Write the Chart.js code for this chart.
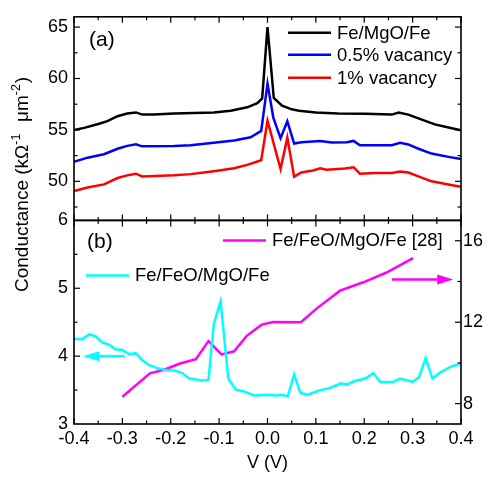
<!DOCTYPE html>
<html>
<head>
<meta charset="utf-8">
<script src="https://cdn.jsdelivr.net/npm/chart.js@4.4.1/dist/chart.umd.min.js"></script>
<style>
  html, body { margin: 0; padding: 0; background: #fff; }
</style>
</head>
<body>
<canvas id="c" width="489" height="477"></canvas>
<script>
// (a) Fe/MgO/Fe and vacancy curves, left axis of the top panel
const vBlack = [-0.4, -0.379, -0.348, -0.331, -0.31, -0.29, -0.272, -0.259, -0.235, -0.193, -0.152, -0.111, -0.076, -0.042, -0.021, -0.011, 0.0, 0.013, 0.03, 0.05, 0.065, 0.1, 0.146, 0.202, 0.257, 0.271, 0.291, 0.319, 0.346, 0.374, 0.4];
const gBlack = [55.0, 55.2, 55.6, 55.86, 56.33, 56.6, 56.7, 56.49, 56.49, 56.6, 56.65, 56.7, 56.87, 57.2, 57.6, 58.07, 65.0, 58.1, 57.35, 57.0, 56.87, 56.7, 56.6, 56.56, 56.49, 56.68, 56.49, 56.0, 55.54, 55.23, 54.97];

const vBlue = [-0.4, -0.372, -0.338, -0.31, -0.29, -0.272, -0.259, -0.193, -0.159, -0.111, -0.069, -0.035, -0.013, 0.0, 0.012, 0.027, 0.041, 0.055, 0.07, 0.109, 0.133, 0.164, 0.178, 0.191, 0.257, 0.274, 0.291, 0.312, 0.339, 0.374, 0.4];
const gBlue = [51.9, 52.3, 52.64, 53.17, 53.45, 53.6, 53.4, 53.43, 53.52, 53.74, 53.97, 54.28, 54.9, 59.5, 56.2, 54.2, 55.85, 53.67, 53.8, 53.93, 53.78, 53.8, 53.93, 53.5, 53.52, 53.74, 53.59, 53.17, 52.7, 52.38, 52.16];

const vRed = [-0.4, -0.372, -0.338, -0.31, -0.29, -0.272, -0.259, -0.193, -0.159, -0.111, -0.069, -0.042, -0.013, 0.0, 0.027, 0.041, 0.055, 0.07, 0.094, 0.109, 0.122, 0.16, 0.178, 0.191, 0.222, 0.257, 0.274, 0.291, 0.312, 0.339, 0.374, 0.4];
const gRed = [49.06, 49.4, 49.7, 50.32, 50.58, 50.74, 50.48, 50.58, 50.7, 50.99, 51.27, 51.6, 52.05, 55.9, 51.2, 54.25, 50.45, 50.86, 51.05, 51.27, 51.12, 51.24, 51.37, 50.74, 50.8, 50.8, 50.96, 50.86, 50.48, 50.0, 49.7, 49.47];

// (b) Fe/FeO/MgO/Fe, left axis of the bottom panel
const vCyan = [-0.4, -0.383, -0.368, -0.355, -0.341, -0.328, -0.314, -0.3, -0.286, -0.272, -0.259, -0.245, -0.231, -0.214, -0.193, -0.176, -0.162, -0.148, -0.135, -0.122, -0.111, -0.097, -0.081, -0.066, -0.049, -0.027, 0.003, 0.016, 0.029, 0.042, 0.055, 0.068, 0.082, 0.105, 0.126, 0.139, 0.152, 0.164, 0.179, 0.202, 0.219, 0.233, 0.26, 0.274, 0.3, 0.313, 0.327, 0.341, 0.357, 0.38, 0.4];
const gCyan = [4.255, 4.25, 4.32, 4.29, 4.2, 4.17, 4.1, 4.09, 4.03, 4.04, 3.94, 3.87, 3.83, 3.8, 3.79, 3.75, 3.67, 3.655, 3.64, 3.65, 4.47, 4.81, 3.67, 3.51, 3.48, 3.42, 3.43, 3.42, 3.43, 3.41, 3.73, 3.46, 3.43, 3.49, 3.525, 3.56, 3.6, 3.58, 3.63, 3.67, 3.75, 3.62, 3.62, 3.67, 3.62, 3.69, 3.97, 3.67, 3.76, 3.85, 3.89];

// (b) Fe/FeO/MgO/Fe [28], right axis
const vMag = [-0.3, -0.243, -0.212, -0.181, -0.148, -0.122, -0.095, -0.069, -0.043, -0.012, 0.012, 0.069, 0.102, 0.15, 0.198, 0.246, 0.301];
const gMag = [8.34, 9.49, 9.68, 9.97, 10.18, 11.07, 10.42, 10.57, 11.33, 11.88, 12.01, 12.0, 12.68, 13.55, 13.96, 14.44, 15.15];

const labelsTop = ['Fe/MgO/Fe', '0.5% vacancy', '1% vacancy'];
const labelMag = 'Fe/FeO/MgO/Fe [28]';
const labelCyan = 'Fe/FeO/MgO/Fe';

const FONT = "'Liberation Sans', Arial, sans-serif";

function pts(xs, ys) {
    return xs.map((x, i) => ({x: x, y: ys[i]}));
}

function line(label, xs, ys, color, yAxis) {
    return {
        label: label,
        data: pts(xs, ys),
        yAxisID: yAxis,
        borderColor: color,
        backgroundColor: color,
        borderWidth: 2.5,
        pointRadius: 0,
        tension: 0,
        fill: false
    };
}

// frame, inward ticks, legends, arrows and the y title
const decor = {
    id: 'decor',
    afterDraw(chart) {
        const {ctx, chartArea: a, scales} = chart;
        const sx = scales.x, yA = scales.yA, yB = scales.yB, yR = scales.yR;
        const L = a.left, R = a.right;

        ctx.save();
        ctx.strokeStyle = '#000';
        ctx.lineWidth = 1.6;
        ctx.lineCap = 'butt';
        const seg = (x1, y1, x2, y2) => { ctx.beginPath(); ctx.moveTo(x1, y1); ctx.lineTo(x2, y2); ctx.stroke(); };

        ctx.strokeRect(L, yA.top, R - L, yA.bottom - yA.top);
        ctx.strokeRect(L, yB.top, R - L, yB.bottom - yB.top);

        ctx.lineWidth = 1.2;
        // x ticks on all four horizontal edges
        for (let i = -8; i <= 8; i++) {
            const px = sx.getPixelForValue(i * 0.05);
            const len = i % 2 === 0 ? 6 : 3.5;
            [yA, yB].forEach(s => {
                seg(px, s.top, px, s.top + len);
                seg(px, s.bottom, px, s.bottom - len);
            });
        }
        // top panel, left and right
        for (let v = 47.5; v <= 65.01; v += 2.5) {
            const py = yA.getPixelForValue(v);
            const len = v % 5 === 0 ? 6 : 3.5;
            seg(L, py, L + len, py);
            seg(R, py, R - len, py);
        }
        // bottom panel, left
        for (let v = 3.5; v <= 5.51; v += 0.5) {
            const py = yB.getPixelForValue(v);
            seg(L, py, L + (v % 1 === 0 ? 6 : 3.5), py);
        }
        // bottom panel, right
        for (let v = 8; v <= 16; v += 2) {
            const py = yR.getPixelForValue(v);
            seg(R, py, R - (v % 4 === 0 ? 6 : 3.5), py);
        }

        // panel tags
        ctx.fillStyle = '#000';
        ctx.font = '21px ' + FONT;
        ctx.textBaseline = 'middle';
        ctx.textAlign = 'left';
        ctx.fillText('(a)', L + 15, yA.top + 23);
        ctx.fillText('(b)', L + 13, yB.top + 22);

        // legends
        const ds = chart.data.datasets;
        ctx.font = '18.5px ' + FONT;
        ctx.lineWidth = 2.5;
        const entry = (d, x, y) => {
            ctx.strokeStyle = d.borderColor;
            seg(x, y, x + 43, y);
            ctx.fillStyle = '#000';
            ctx.fillText(d.label, x + 49, y + 1);
        };
        entry(ds[0], 288, yA.top + 16);
        entry(ds[1], 288, yA.top + 38);
        entry(ds[2], 288, yA.top + 61);
        entry(ds[4], 223, yB.top + 20);
        entry(ds[3], 86, yB.top + 55);

        // arrows pointing to the axis each curve belongs to
        const arrow = (x1, x2, y, color) => {
            const dir = Math.sign(x2 - x1);
            ctx.strokeStyle = color;
            ctx.fillStyle = color;
            seg(x1, y, x2 - dir * 12, y);
            ctx.beginPath();
            ctx.moveTo(x2, y);
            ctx.lineTo(x2 - dir * 16, y - 5);
            ctx.lineTo(x2 - dir * 16, y + 5);
            ctx.closePath();
            ctx.fill();
        };
        arrow(sx.getPixelForValue(-0.295), sx.getPixelForValue(-0.381), yB.getPixelForValue(4.0), ds[3].borderColor);
        arrow(sx.getPixelForValue(0.257), sx.getPixelForValue(0.384), yR.getPixelForValue(14.1), ds[4].borderColor);

        // y title with superscripts
        ctx.translate(28, 292);
        ctx.rotate(-Math.PI / 2);
        ctx.fillStyle = '#000';
        ctx.textBaseline = 'alphabetic';
        let off = 0;
        [['Conductance (kΩ', 0], ['-1', 1], ['  μm', 0], ['-2', 1], [')', 0]].forEach(([t, sup]) => {
            ctx.font = (sup ? '12.5px ' : '19px ') + FONT;
            ctx.fillText(t, off, sup ? -8 : 0);
            off += ctx.measureText(t).width + (sup ? 1 : 0);
        });
        ctx.restore();
    }
};

const tickFont = {family: FONT, size: 18};
const noGrid = {display: false, drawTicks: false};

new Chart(document.getElementById('c'), {
    type: 'line',
    data: {
        datasets: [
            line(labelsTop[0], vBlack, gBlack, '#000000', 'yA'),
            line(labelsTop[1], vBlue, gBlue, '#0000ff', 'yA'),
            line(labelsTop[2], vRed, gRed, '#ff0000', 'yA'),
            line(labelCyan, vCyan, gCyan, '#00ffff', 'yB'),
            line(labelMag, vMag, gMag, '#ff00ff', 'yR')
        ]
    },
    options: {
        responsive: false,
        animation: false,
        layout: {padding: {top: 7, left: 0, right: 0, bottom: 0}},
        plugins: {legend: {display: false}, tooltip: {enabled: false}},
        scales: {
            x: {
                type: 'linear',
                position: 'bottom',
                min: -0.4,
                max: 0.4,
                grid: noGrid,
                border: {display: false},
                ticks: {
                    stepSize: 0.1,
                    padding: 4,
                    color: '#000',
                    font: tickFont,
                    maxRotation: 0,
                    callback: v => Math.abs(v) < 1e-9 ? '0.0' : v.toFixed(1)
                },
                title: {display: true, text: 'V (V)', color: '#000', font: {family: FONT, size: 18}, padding: {top: 0, bottom: 3}},
                afterFit: s => { s.height = 53; }
            },
            // left boxes are stacked in reverse order, so the bottom panel comes first
            yB: {
                type: 'linear',
                position: 'left',
                stack: 'left',
                stackWeight: 1,
                min: 3,
                max: 6,
                grid: noGrid,
                border: {display: false},
                ticks: {stepSize: 1, padding: 6, color: '#000', font: tickFont},
                afterFit: s => { s.width = 74; }
            },
            yA: {
                type: 'linear',
                position: 'left',
                stack: 'left',
                stackWeight: 1,
                min: 46.2,
                max: 66,
                grid: noGrid,
                border: {display: false},
                ticks: {stepSize: 5, includeBounds: false, padding: 6, color: '#000', font: tickFont},
                afterFit: s => { s.width = 74; }
            },
            yRtop: {
                type: 'linear',
                position: 'right',
                stack: 'right',
                stackWeight: 1,
                min: 0,
                max: 1,
                grid: noGrid,
                border: {display: false},
                ticks: {display: false},
                afterFit: s => { s.width = 28; }
            },
            yR: {
                type: 'linear',
                position: 'right',
                stack: 'right',
                stackWeight: 1,
                min: 7,
                max: 17,
                grid: noGrid,
                border: {display: false},
                ticks: {stepSize: 4, includeBounds: false, padding: 2, color: '#000', font: tickFont},
                afterFit: s => { s.width = 28; }
            }
        }
    },
    plugins: [decor]
});
</script>
</body>
</html>
